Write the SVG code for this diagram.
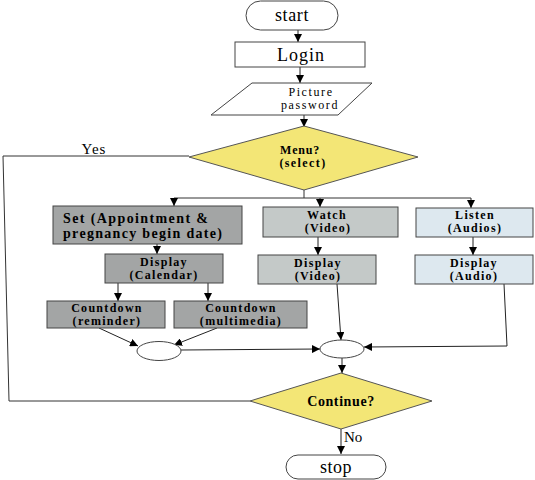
<svg xmlns="http://www.w3.org/2000/svg" width="535" height="480" viewBox="0 0 535 480" font-family="'Liberation Serif', 'DejaVu Serif', serif">
<defs>
<marker id="ah" viewBox="0 0 10 10" refX="10" refY="5" markerWidth="8" markerHeight="8" markerUnits="userSpaceOnUse" orient="auto"><path d="M0,0 L10,5 L0,10 z" fill="#000"/></marker>
<style>
text{font-family:'Liberation Serif','DejaVu Serif',serif}
.t{fill:#000;text-anchor:middle}
.b{font-weight:bold}
.bx{font-weight:bold;font-size:12px;letter-spacing:1.3px}
.ln{fill:none;stroke:#333;stroke-width:1}
.ar{fill:none;stroke:#222;stroke-width:1;marker-end:url(#ah)}
.term{fill:#fff;stroke:#444;stroke-width:1}
.g1{fill:#a3a5a5;stroke:#444;stroke-width:1}
.g2{fill:#c4c9c8;stroke:#444;stroke-width:1}
.g3{fill:#dde8ef;stroke:#444;stroke-width:1}
.dia{fill:#f3e676;stroke:#555;stroke-width:1}
</style>
</defs>
<rect width="535" height="480" fill="#fff"/>
<g id="connectors">
<path class="ar" d="M298,30 V42"/>
<path class="ar" d="M300,67 V83"/>
<path class="ar" d="M304,115 V127"/>
<path class="ln" d="M304,190 V198 M174,198 H471"/>
<path class="ar" d="M174,198 V206"/>
<path class="ar" d="M320,198 V207"/>
<path class="ar" d="M471,198 V208"/>
<path class="ar" d="M157,244 V254"/>
<path class="ar" d="M118,283 V301"/>
<path class="ar" d="M208,283 V301"/>
<path class="ar" d="M318,237 V255"/>
<path class="ar" d="M473,237 V255"/>
<path class="ar" d="M99,328 L138,346"/>
<path class="ar" d="M217,328 L174,345"/>
<path class="ar" d="M181,350 L320,349"/>
<path class="ar" d="M337,284 L341,340"/>
<path class="ar" d="M504,284 L507,346 L364,347"/>
<path class="ar" d="M342,358 V373"/>
<path class="ln" d="M189,156 H3 L9,401 H250"/>
<path class="ar" d="M341,429 V454"/>
<text class="t" x="94" y="154" font-size="15" letter-spacing="1">Yes</text>
<text class="t" x="344" y="442" font-size="15" style="text-anchor:start">No</text>
</g>
<g id="start"><rect class="term" x="246" y="1" width="92" height="29" rx="14.5"/><text class="t" x="292" y="21" font-size="18" letter-spacing="0.6">start</text></g>
<g id="login"><rect class="term" x="235" y="42" width="130" height="25"/><text class="t" x="301" y="61" font-size="18" letter-spacing="1">Login</text></g>
<g id="picture"><path class="term" d="M252,83 H372 L338,115 H211 Z"/><text class="t" x="311" y="96" font-size="12" letter-spacing="1.6">Picture</text><text class="t" x="310" y="109" font-size="12" letter-spacing="1.6">password</text></g>
<g id="menu"><path class="dia" d="M304,126 L418,157 L304,190 L189,157 Z"/><text class="t b" x="300" y="154" font-size="12" letter-spacing="0.8">Menu?</text><text class="t b" x="303" y="167" font-size="12" letter-spacing="1.4">(select)</text></g>
<g id="set"><rect class="g1" x="53" y="206" width="189" height="38"/><text class="t b" x="63" y="223" font-size="14" style="text-anchor:start" textLength="145">Set (Appointment &amp;</text><text class="t b" x="63" y="238" font-size="14" style="text-anchor:start" textLength="159">pregnancy begin date)</text></g>
<g id="watch"><rect class="g2" x="263" y="207" width="135" height="30"/><text class="t bx" x="327" y="219">Watch</text><text class="t bx" x="328" y="232">(Video)</text></g>
<g id="listen"><rect class="g3" x="416" y="208" width="117" height="29"/><text class="t bx" x="475" y="219">Listen</text><text class="t bx" x="475" y="232">(Audios)</text></g>
<g id="dispcal"><rect class="g1" x="105" y="254" width="118" height="29"/><text class="t bx" x="164" y="266">Display</text><text class="t bx" x="164" y="279">(Calendar)</text></g>
<g id="dispvid"><rect class="g2" x="258" y="255" width="118" height="29"/><text class="t bx" x="318" y="267">Display</text><text class="t bx" x="318" y="280">(Video)</text></g>
<g id="dispaud"><rect class="g3" x="415" y="255" width="118" height="29"/><text class="t bx" x="474" y="267">Display</text><text class="t bx" x="474" y="280">(Audio)</text></g>
<g id="cdrem"><rect class="g1" x="47" y="301" width="118" height="27"/><text class="t bx" x="107" y="312">Countdown</text><text class="t bx" x="107" y="325">(reminder)</text></g>
<g id="cdmul"><rect class="g1" x="174" y="301" width="133" height="27"/><text class="t bx" x="241" y="312">Countdown</text><text class="t bx" x="241" y="325">(multimedia)</text></g>
<g id="merge1"><ellipse class="term" cx="159" cy="351" rx="22" ry="9.5"/></g>
<g id="merge2"><ellipse class="term" cx="342" cy="349" rx="22" ry="9"/></g>
<g id="continue"><path class="dia" d="M341,373 L432,401 L341,429 L250,401 Z"/><text class="t b" x="341" y="406" font-size="14" letter-spacing="0.6">Continue?</text></g>
<g id="stop"><rect class="term" x="286" y="455" width="100" height="24" rx="12"/><text class="t" x="336" y="473" font-size="18" letter-spacing="0.5">stop</text></g>
</svg>
